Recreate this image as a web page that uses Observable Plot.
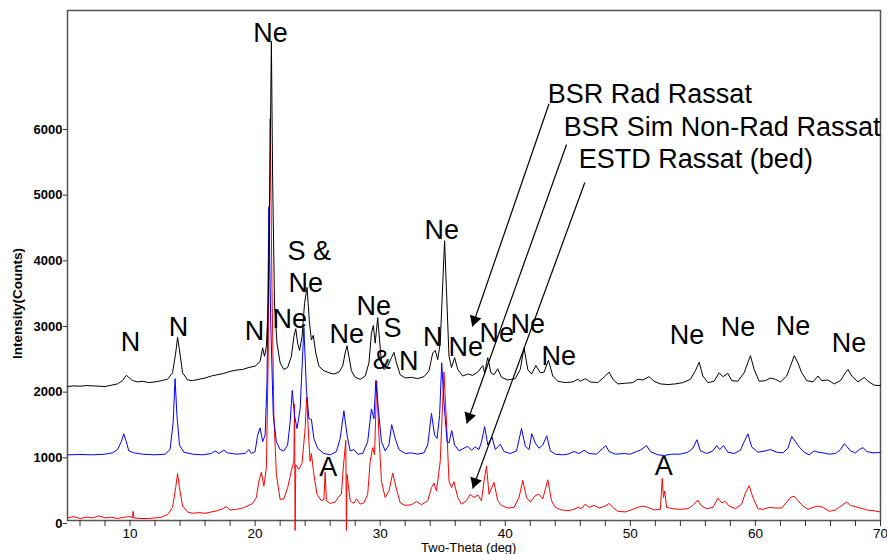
<!DOCTYPE html>
<html><head><meta charset="utf-8">
<script src="https://cdn.jsdelivr.net/npm/d3@7"></script>
<script src="https://cdn.jsdelivr.net/npm/@observablehq/plot@0.6"></script>
<style>body{margin:0;background:#fff} svg{display:block}</style>
</head><body><div id="chart"></div>
<script>
// ---- series (2-theta, counts) ----
const blackSeries = [[5.0,2040],[5.5,2050],[6.0,2045],[6.5,2055],[7.0,2050],[7.5,2045],[8.0,2040],[8.5,2060],[9.0,2080],[9.4,2130],[9.7,2210],[9.9,2180],[10.2,2130],[10.6,2110],[11.0,2120],[11.5,2100],[12.0,2110],[12.5,2130],[13.0,2150],[13.4,2250],[13.65,2550],[13.8,2790],[13.95,2600],[14.2,2250],[14.6,2140],[15.0,2130],[15.5,2150],[16.0,2170],[16.5,2200],[17.0,2220],[17.5,2240],[18.0,2270],[18.5,2290],[19.0,2300],[19.5,2330],[20.0,2350],[20.4,2420],[20.6,2630],[20.75,2500],[20.9,2650],[21.05,3300],[21.2,5500],[21.3,7300],[21.4,5200],[21.55,3300],[21.75,2700],[22.0,2400],[22.3,2300],[22.6,2330],[22.9,2500],[23.1,2800],[23.25,2920],[23.4,2700],[23.55,2590],[23.75,2800],[23.95,3300],[24.15,3550],[24.35,3000],[24.5,2750],[24.65,2820],[24.85,2550],[25.1,2350],[25.5,2280],[25.9,2250],[26.3,2230],[26.7,2260],[27.0,2350],[27.2,2550],[27.35,2660],[27.5,2500],[27.7,2280],[28.0,2180],[28.4,2150],[28.8,2200],[29.1,2400],[29.3,2850],[29.45,2970],[29.6,2700],[29.8,3090],[29.95,2750],[30.1,2400],[30.3,2300],[30.6,2350],[30.9,2480],[31.1,2560],[31.3,2400],[31.6,2220],[32.0,2170],[32.5,2180],[33.0,2160],[33.5,2190],[33.9,2280],[34.2,2550],[34.4,2590],[34.6,2450],[34.8,2700],[35.0,3600],[35.15,4260],[35.3,3500],[35.5,2500],[35.7,2330],[35.95,2480],[36.2,2300],[36.6,2200],[37.0,2230],[37.4,2210],[37.8,2260],[38.2,2360],[38.35,2250],[38.6,2480],[38.85,2250],[39.1,2220],[39.4,2310],[39.7,2180],[40.2,2140],[40.8,2160],[41.2,2300],[41.5,2630],[41.8,2300],[42.1,2230],[42.45,2360],[42.8,2250],[43.1,2260],[43.45,2440],[43.8,2200],[44.2,2120],[44.8,2100],[45.4,2110],[45.8,2150],[46.0,2120],[46.4,2160],[46.8,2110],[47.4,2100],[48.0,2200],[48.3,2260],[48.6,2150],[49.0,2080],[49.6,2090],[50.2,2100],[50.6,2150],[51.0,2140],[51.5,2190],[51.9,2120],[52.4,2080],[53.0,2070],[53.6,2080],[54.2,2100],[54.8,2150],[55.2,2280],[55.5,2410],[55.8,2200],[56.2,2100],[56.7,2120],[57.1,2250],[57.4,2190],[57.8,2240],[58.1,2130],[58.6,2120],[59.1,2250],[59.6,2510],[59.9,2300],[60.3,2120],[60.8,2130],[61.2,2170],[61.6,2150],[62.0,2110],[62.5,2200],[62.8,2350],[63.1,2510],[63.4,2400],[63.7,2250],[64.1,2130],[64.6,2110],[65.0,2200],[65.3,2130],[65.8,2140],[66.3,2080],[66.8,2130],[67.2,2250],[67.4,2300],[67.7,2200],[68.2,2110],[68.7,2180],[69.0,2120],[69.5,2060],[70.0,2055]];

const blueSeries = [[5.0,1000],[6.0,1005],[7.0,1000],[8.0,1010],[8.6,1030],[9.0,1080],[9.3,1200],[9.5,1320],[9.7,1200],[9.9,1060],[10.3,1030],[11.0,1010],[12.0,1000],[12.8,1010],[13.2,1080],[13.45,1500],[13.6,2160],[13.75,1600],[13.95,1150],[14.3,1040],[15.0,1010],[15.8,1000],[16.5,1020],[16.8,1060],[17.1,1020],[17.5,1070],[17.8,1030],[18.5,1010],[19.2,1020],[19.5,1080],[19.7,1020],[20.0,1050],[20.2,1300],[20.4,1410],[20.6,1200],[20.8,1300],[20.95,2100],[21.1,4780],[21.25,3000],[21.45,1600],[21.7,1200],[22.0,1080],[22.3,1060],[22.6,1150],[22.8,1500],[22.97,1980],[23.15,1600],[23.35,1400],[23.6,1700],[23.9,2940],[24.1,2000],[24.3,1550],[24.5,1540],[24.7,1250],[25.0,1100],[25.5,1020],[26.0,1000],[26.5,1050],[26.8,1250],[27.1,1670],[27.35,1300],[27.6,1060],[27.9,1080],[28.2,1010],[28.6,1020],[29.0,1200],[29.3,1700],[29.5,1550],[29.65,2130],[29.85,1700],[30.1,1200],[30.4,1060],[30.7,1150],[30.92,1460],[31.2,1250],[31.5,1080],[32.0,1020],[32.5,1030],[33.0,1010],[33.5,1030],[33.8,1150],[34.1,1630],[34.35,1300],[34.55,1250],[34.75,1600],[34.92,2400],[35.1,1800],[35.35,1200],[35.5,1180],[35.72,1370],[35.95,1150],[36.3,1060],[36.7,1100],[37.0,1130],[37.3,1070],[37.6,1120],[37.9,1080],[38.1,1200],[38.35,1430],[38.6,1150],[38.95,1270],[39.2,1080],[39.6,1160],[39.9,1050],[40.4,1020],[40.9,1060],[41.3,1400],[41.6,1130],[41.9,1080],[42.12,1320],[42.4,1180],[42.7,1100],[43.0,1150],[43.32,1290],[43.6,1060],[44.0,1010],[44.6,1000],[45.0,1010],[45.5,1050],[45.9,1020],[46.3,1070],[46.7,1020],[47.3,1010],[47.8,1100],[48.04,1140],[48.3,1050],[48.8,1010],[49.5,1020],[50.0,1010],[50.5,1050],[50.8,1070],[51.3,1140],[51.6,1050],[52.2,1000],[52.7,990],[53.3,1010],[54.0,1010],[54.6,1040],[55.0,1100],[55.32,1230],[55.6,1060],[56.1,1020],[56.6,1060],[56.9,1140],[57.15,1080],[57.45,1140],[57.8,1040],[58.3,1020],[58.8,1070],[59.1,1200],[59.4,1320],[59.7,1120],[60.2,1040],[60.8,1060],[61.2,1080],[61.7,1040],[62.2,1030],[62.6,1100],[62.9,1280],[63.2,1200],[63.5,1120],[63.9,1040],[64.3,1000],[64.7,1060],[65.0,1040],[65.4,1030],[65.9,1010],[66.4,1020],[66.8,1080],[67.1,1170],[67.3,1130],[67.6,1060],[68.0,1030],[68.3,1080],[68.6,1110],[68.9,1050],[69.4,1030],[70.0,1035]];

const redSeries = [[5.0,40],[5.5,60],[6.0,30],[6.5,50],[7.0,40],[7.5,70],[8.0,40],[8.5,50],[9.0,30],[9.5,50],[10.0,60],[10.2,40],[10.25,140],[10.3,40],[10.8,30],[11.5,30],[12.0,40],[12.5,50],[13.0,90],[13.4,200],[13.65,500],[13.8,715],[13.95,500],[14.2,220],[14.6,130],[15.0,110],[15.5,120],[16.0,110],[16.5,130],[17.0,150],[17.4,180],[17.7,210],[18.0,160],[18.5,170],[19.0,190],[19.5,230],[19.8,260],[20.1,350],[20.3,600],[20.5,735],[20.7,520],[20.9,800],[21.05,2500],[21.2,6120],[21.35,3500],[21.5,1600],[21.7,700],[22.0,320],[22.3,330],[22.6,500],[22.9,760],[23.1,900],[23.15,1770],[23.2,-150],[23.25,850],[23.5,780],[23.75,870],[24.0,1400],[24.12,1880],[24.3,1200],[24.4,900],[24.5,1020],[24.7,700],[24.95,400],[25.3,300],[25.5,320],[25.6,735],[25.7,300],[26.0,260],[26.4,280],[26.7,370],[26.9,400],[27.05,800],[27.25,1220],[27.3,-150],[27.35,700],[27.6,300],[27.9,260],[28.1,330],[28.4,250],[28.7,270],[29.0,400],[29.2,900],[29.4,1110],[29.55,1000],[29.72,2130],[29.9,1300],[30.1,600],[30.4,350],[30.7,450],[31.0,720],[31.3,480],[31.6,270],[32.0,230],[32.5,240],[32.9,290],[33.3,240],[33.8,300],[34.1,500],[34.3,570],[34.5,450],[34.8,900],[35.1,2260],[35.3,1500],[35.5,600],[35.7,500],[35.9,590],[36.2,350],[36.5,250],[36.9,300],[37.2,400],[37.5,350],[37.8,390],[38.1,300],[38.3,600],[38.5,830],[38.7,400],[39.1,580],[39.4,300],[39.7,230],[40.2,190],[40.7,200],[41.1,350],[41.4,610],[41.7,350],[42.0,280],[42.4,380],[42.7,400],[43.0,330],[43.4,620],[43.7,300],[44.0,200],[44.5,160],[45.0,150],[45.5,170],[45.8,200],[46.1,180],[46.4,250],[46.7,200],[47.1,230],[47.5,190],[48.0,220],[48.3,260],[48.6,200],[49.0,140],[49.6,130],[50.2,170],[50.6,200],[51.0,220],[51.4,200],[51.9,160],[52.4,170],[52.55,640],[52.65,350],[52.75,450],[52.9,200],[53.4,180],[54.0,170],[54.6,180],[55.0,230],[55.4,310],[55.7,220],[56.1,180],[56.6,200],[57.0,340],[57.3,270],[57.6,290],[57.9,220],[58.4,180],[58.9,250],[59.2,420],[59.5,530],[59.8,350],[60.2,180],[60.6,170],[61.1,200],[61.6,190],[62.1,190],[62.5,280],[62.8,350],[63.1,370],[63.4,300],[63.8,220],[64.2,170],[64.6,200],[65.0,220],[65.4,200],[65.9,140],[66.4,160],[66.9,230],[67.3,280],[67.6,230],[68.0,210],[68.4,190],[68.9,160],[69.4,150],[70.0,130]];

// ---- ticks ----
const xTicks = d3.range(6, 71, 2);
const yTicks = [0, 1000, 2000, 3000, 4000, 5000, 6000];

// ---- peak labels (2-theta, counts) ----
const peakLabels = [
  {t:"Ne", x:21.24, y:7416}, {t:"N", x:10.04, y:2711}, {t:"N", x:13.88, y:2939},
  {t:"N", x:19.96, y:2878}, {t:"Ne", x:22.76, y:3061}, {t:"S &", x:24.32, y:4096},
  {t:"Ne", x:24.04, y:3609}, {t:"Ne", x:27.32, y:2832}, {t:"Ne", x:29.48, y:3259},
  {t:"S", x:30.98, y:2924}, {t:"&", x:30.12, y:2436}, {t:"N", x:32.28, y:2421},
  {t:"N", x:34.2, y:2787}, {t:"Ne", x:34.92, y:4416}, {t:"Ne", x:36.84, y:2634},
  {t:"Ne", x:39.32, y:2848}, {t:"Ne", x:41.8, y:2985}, {t:"Ne", x:44.28, y:2497},
  {t:"Ne", x:54.52, y:2817}, {t:"Ne", x:58.6, y:2939}, {t:"Ne", x:63.0, y:2954},
  {t:"Ne", x:67.48, y:2695}, {t:"A", x:25.85, y:807}, {t:"A", x:52.68, y:822}
];
const seriesLabels = [
  {t:"BSR Rad Rassat", x:43.4, y:6487},
  {t:"BSR Sim Non-Rad Rassat", x:44.68, y:5985},
  {t:"ESTD Rassat (bed)", x:45.88, y:5497}
];
const arrows = [
  {x1:43.50, y1:6345, x2:37.36, y2:2954},
  {x1:44.90, y1:5726, x2:36.92, y2:1477},
  {x1:46.36, y1:5147, x2:37.40, y2:487}
];

const toRows = a => a.map(([x, y]) => ({x, y}));
const font = "Liberation Sans, Arial, Helvetica, sans-serif";

const chart = Plot.plot({
  width: 887, height: 554,
  marginLeft: 67, marginRight: 7, marginTop: 10, marginBottom: 34,
  style: {fontFamily: font, background: "#fff", color: "#000"},
  x: {domain: [5, 70]},
  y: {domain: [0, 7766]},
  marks: [
    Plot.frame({stroke: "#555", strokeWidth: 1.5}),
    Plot.axisX({ticks: xTicks, tickSize: 6, tickPadding: 2, tickFormat: d => d % 10 === 0 ? String(d) : "", fontSize: 13.5, label: null, stroke: "#333"}),
    Plot.axisY({ticks: yTicks, tickSize: 4, tickPadding: 1, tickFormat: d => String(d), fontSize: 13, fontWeight: "bold", label: null, dy: 3, stroke: "#333"}),
    Plot.line(toRows(redSeries), {x: "x", y: "y", stroke: "#ff0000", strokeWidth: 1}),
    Plot.line(toRows(blueSeries), {x: "x", y: "y", stroke: "#0000ff", strokeWidth: 1}),
    Plot.line(toRows(blackSeries), {x: "x", y: "y", stroke: "#000000", strokeWidth: 1}),
    Plot.text(peakLabels, {x: "x", y: "y", text: "t", fontSize: 27, fill: "#000", textAnchor: "middle", lineAnchor: "middle"}),
    Plot.text(seriesLabels, {x: "x", y: "y", text: "t", fontSize: 27, fill: "#000", textAnchor: "start", lineAnchor: "middle"}),
    Plot.link(arrows, {x1: "x1", y1: "y1", x2: "x2", y2: "y2", stroke: "#000", strokeWidth: 1.2}),
    Plot.dot(arrows, {x: "x2", y: "y2", symbol: "triangle", r: 4.5, fill: "#000", stroke: "none", rotate: 199, dx: 2.3, dy: -6.6}),
    Plot.text([{x: 37.08, y: 0}], {x: "x", y: "y", text: () => "Two-Theta (deg)", dy: 27, fontSize: 13, lineAnchor: "middle", fill: "#000"}),
    Plot.text([{x: 5, y: 3304}], {x: "x", y: "y", text: () => "Intensity(Counts)", rotate: -90, dx: -50, fontSize: 13.5, fontWeight: "bold", lineAnchor: "middle", fill: "#000"})
  ]
});
document.getElementById("chart").appendChild(chart);
</script>
</body></html>
